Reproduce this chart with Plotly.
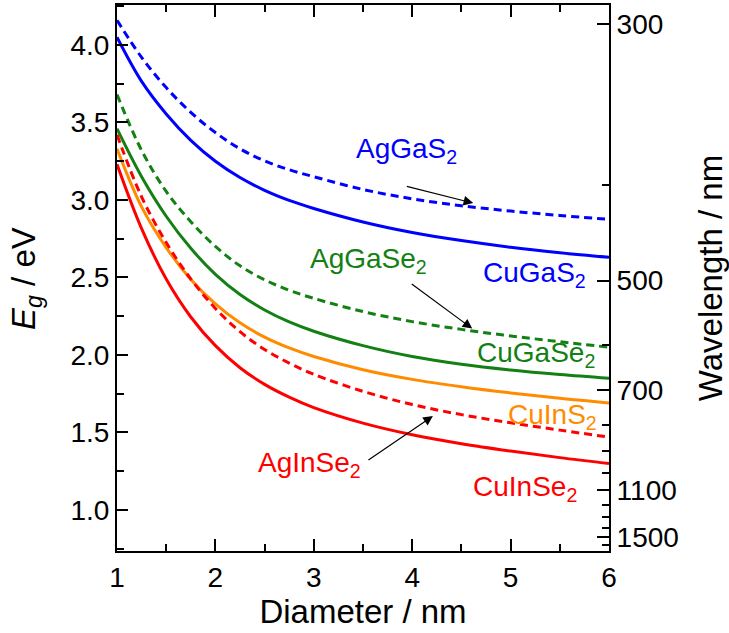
import plotly.graph_objects as go

# ---- data ----
diameter = [1.0, 1.25, 1.5, 1.75, 2.0, 2.25, 2.5, 2.75, 3.0, 3.5, 4.0, 4.5, 5.0, 5.5, 6.0]
AgGaS2  = [4.16, 3.92, 3.725, 3.565, 3.435, 3.33, 3.2525, 3.195, 3.15, 3.0675, 3.0075, 2.9625, 2.9285, 2.90, 2.875]
CuGaS2  = [4.05, 3.765, 3.555, 3.385, 3.25, 3.145, 3.062, 2.997, 2.945, 2.858, 2.79, 2.738, 2.695, 2.66, 2.63]
AgGaSe2 = [3.68, 3.32, 3.055, 2.86, 2.70, 2.575, 2.485, 2.4175, 2.365, 2.28, 2.215, 2.165, 2.1225, 2.085, 2.05]
CuGaSe2 = [3.46, 3.15, 2.895, 2.688, 2.52, 2.39, 2.29, 2.213, 2.153, 2.06, 1.99, 1.94, 1.903, 1.874, 1.85]
CuInS2  = [3.33, 2.955, 2.6925, 2.4875, 2.33, 2.2075, 2.115, 2.045, 1.99, 1.905, 1.8425, 1.795, 1.755, 1.72, 1.69]
AgInSe2 = [3.42, 3.02, 2.725, 2.49, 2.30, 2.15, 2.035, 1.9475, 1.875, 1.765, 1.68, 1.615, 1.5625, 1.515, 1.47]
CuInSe2 = [3.23, 2.815, 2.49, 2.245, 2.06, 1.9175, 1.81, 1.7275, 1.66, 1.56, 1.485, 1.4275, 1.38, 1.3375, 1.30]

wl_major = [300, 500, 700, 1100, 1500]
wl_minor = [400, 600, 800, 900, 1000, 1200, 1300, 1400, 1600]
HC = 1239.84

BLUE, GREEN, ORANGE, RED = "#0000ff", "#138013", "#ff8c00", "#ff0000"
FONT = "Liberation Sans, Arial, sans-serif"

series = [
    ("AgGaS2", AgGaS2, BLUE, True),
    ("CuGaS2", CuGaS2, BLUE, False),
    ("AgGaSe2", AgGaSe2, GREEN, True),
    ("CuGaSe2", CuGaSe2, GREEN, False),
    ("CuInS2", CuInS2, ORANGE, False),
    ("AgInSe2", AgInSe2, RED, True),
    ("CuInSe2", CuInSe2, RED, False),
]

fig = go.Figure()
for name, vals, col, dashed in series:
    fig.add_trace(go.Scatter(
        x=diameter, y=vals, mode="lines", name=name, showlegend=False,
        line=dict(color=col, width=3, shape="spline", smoothing=1.0,
                  dash="8px,5px" if dashed else "solid"),
    ))
# dummy trace to anchor the right (wavelength) axis
fig.add_trace(go.Scatter(x=[None], y=[None], yaxis="y2", showlegend=False, hoverinfo="skip"))

YR = [0.735, 4.258]

# text labels: (text, x, y, color)
labels = [
    ("AgGaS<sub>2</sub>", 3.41, 3.32, BLUE),
    ("CuGaS<sub>2</sub>", 4.70, 2.52, BLUE),
    ("AgGaSe<sub>2</sub>", 2.94, 2.61, GREEN),
    ("CuGaSe<sub>2</sub>", 4.64, 2.0, GREEN),
    ("CuInS<sub>2</sub>", 4.95, 1.60, ORANGE),
    ("AgInSe<sub>2</sub>", 2.41, 1.29, RED),
    ("CuInSe<sub>2</sub>", 4.60, 1.14, RED),
]
annotations = []
for t, x, y, c in labels:
    annotations.append(dict(text=t, x=x, y=y, xref="x", yref="y", xanchor="left",
                            yanchor="middle", showarrow=False,
                            font=dict(family=FONT, size=28, color=c)))

# arrows: (tail_x, tail_y, tip_x, tip_y)
arrows = [
    (3.93, 3.09, 4.62, 2.98),
    (3.98, 2.465, 4.61, 2.17),
    (3.54, 1.316, 4.21, 1.606),
]
for tx, ty, hx, hy in arrows:
    annotations.append(dict(text="", x=hx, y=hy, ax=tx, ay=ty, xref="x", yref="y",
                            axref="x", ayref="y", showarrow=True, arrowhead=2,
                            arrowsize=1.6, arrowwidth=1.2, arrowcolor="black", standoff=0))

tickfont = dict(family=FONT, size=28, color="black")
titlefont = dict(family=FONT, size=33, color="black")

# left axis title (placed as rotated text to sit as far left as in the reference)
annotations.append(dict(text="<i>E</i><sub><i>g</i></sub> / eV", x=-0.185, y=0.5,
                        xref="paper", yref="paper", xanchor="center", yanchor="middle",
                        textangle=-90, showarrow=False, font=titlefont))

fig.update_layout(
    width=729, height=633,
    margin=dict(l=117, r=120, t=5, b=82),
    paper_bgcolor="white", plot_bgcolor="white",
    annotations=annotations,
    xaxis=dict(
        range=[1, 6], tickmode="linear", tick0=1, dtick=1, automargin=False,
        ticks="inside", ticklen=12, tickwidth=2, tickcolor="black",
        minor=dict(dtick=0.5, ticks="inside", ticklen=7, tickwidth=2, tickcolor="black"),
        showline=True, linewidth=2, linecolor="black", mirror="ticks",
        showgrid=False, zeroline=False, tickfont=tickfont,
        title=dict(text="Diameter / nm", font=titlefont, standoff=5),
    ),
    yaxis=dict(
        range=YR, tickmode="linear", tick0=0, dtick=0.5, tickformat=".1f", automargin=False,
        ticks="inside", ticklen=11, tickwidth=2, tickcolor="black",
        minor=dict(dtick=0.25, ticks="inside", ticklen=7, tickwidth=2, tickcolor="black"),
        showline=True, linewidth=2, linecolor="black", mirror=False,
        showgrid=False, zeroline=False, tickfont=tickfont,
    ),
    yaxis2=dict(
        range=YR, overlaying="y", side="right", anchor="x", automargin=False,
        tickmode="array", tickvals=[HC / w for w in wl_major], ticktext=[str(w) for w in wl_major],
        ticks="inside", ticklen=12, tickwidth=2, tickcolor="black",
        minor=dict(tickmode="array", tickvals=[HC / w for w in wl_minor], ticks="inside",
                   ticklen=7, tickwidth=2, tickcolor="black"),
        showline=True, linewidth=2, linecolor="black",
        showgrid=False, zeroline=False, tickfont=tickfont,
        title=dict(text="Wavelength / nm", font=titlefont, standoff=22),
    ),
)

fig.write_html("out.html", config={"displayModeBar": False},
               post_script="document.body.style.margin='0';")
